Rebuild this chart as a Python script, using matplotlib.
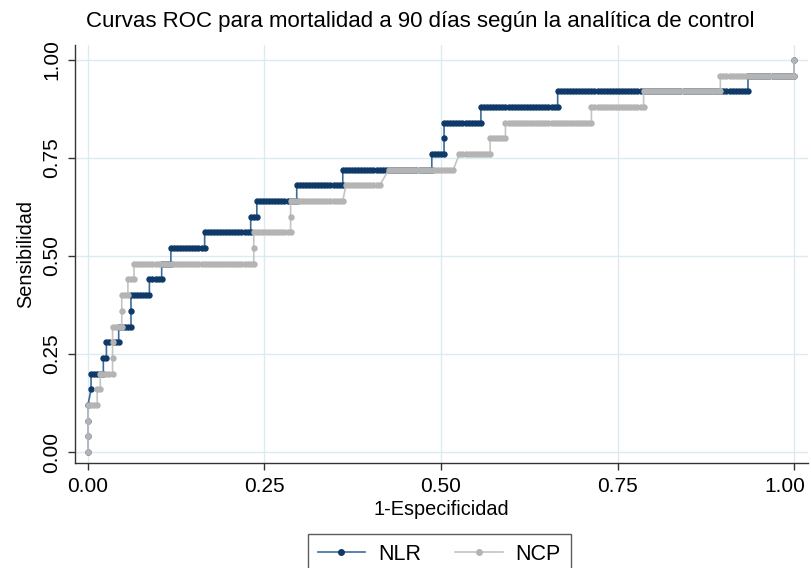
import numpy as np
import matplotlib
matplotlib.use("Agg")
import matplotlib.pyplot as plt
import matplotlib.transforms as mtransforms
from matplotlib.lines import Line2D

plt.rcParams['font.family'] = ['Liberation Sans', 'DejaVu Sans']

# ---- data ----
title = "Curvas ROC para mortalidad a 90 días según la analítica de control"
xlabel = "1-Especificidad"
ylabel = "Sensibilidad"
tick_vals = [0.0, 0.25, 0.5, 0.75, 1.0]
tick_labels = ["0.00", "0.25", "0.50", "0.75", "1.00"]
series_names = ["NLR", "NCP"]

n_neg = 230  # estimated number of controls (spacing of ROC points)

# runs: (sensitivity, 1-specificity start, 1-specificity end)
nlr_sens = [0.00, 0.04, 0.08, 0.12, 0.16, 0.20, 0.24, 0.28, 0.32, 0.36, 0.40, 0.44, 0.48,
            0.52, 0.56, 0.60, 0.64, 0.68, 0.72, 0.76, 0.80, 0.84, 0.88, 0.92, 0.96, 1.00]
nlr_fpr_start = [0, 0, 0, 0, 0.004, 0.004, 0.020, 0.026, 0.045, 0.060, 0.060, 0.087, 0.105,
                 0.118, 0.165, 0.229, 0.240, 0.295, 0.362, 0.489, 0.504, 0.504, 0.557, 0.664, 0.935, 1.0]
nlr_fpr_end = [0, 0, 0, 0, 0.004, 0.020, 0.026, 0.045, 0.060, 0.060, 0.087, 0.105, 0.118,
               0.165, 0.229, 0.240, 0.295, 0.362, 0.489, 0.504, 0.504, 0.557, 0.664, 0.935, 1.0, 1.0]

ncp_sens = [0.00, 0.04, 0.08, 0.12, 0.16, 0.20, 0.24, 0.28, 0.32, 0.36, 0.40, 0.44, 0.48,
            0.52, 0.56, 0.60, 0.64, 0.68, 0.72, 0.76, 0.80, 0.84, 0.88, 0.92, 0.96, 1.00]
ncp_fpr_start = [0, 0, 0, 0, 0.011, 0.017, 0.033, 0.033, 0.033, 0.048, 0.048, 0.056, 0.064,
                 0.233, 0.233, 0.289, 0.289, 0.366, 0.428, 0.527, 0.570, 0.592, 0.713, 0.789, 0.895, 1.0]
ncp_fpr_end = [0, 0, 0, 0.011, 0.017, 0.033, 0.033, 0.033, 0.048, 0.048, 0.056, 0.064, 0.233,
               0.233, 0.287, 0.289, 0.359, 0.411, 0.517, 0.570, 0.592, 0.713, 0.789, 0.895, 1.0, 1.0]


def build(sens, fs, fe):
    xs, ys = [], []
    for s, a, b in zip(sens, fs, fe):
        ka, kb = int(round(a * n_neg)), int(round(b * n_neg))
        for k in range(ka, kb + 1):
            xs.append(k / n_neg)
            ys.append(s)
    return np.array(xs), np.array(ys)


fig = plt.figure(figsize=(8.12, 5.68), dpi=100)
ax = fig.add_axes([75 / 812, 1 - 463 / 568, (808 - 75) / 812, (463 - 45) / 568])

grid_c = "#dcebf2"
for v in tick_vals:
    ax.axhline(v, color=grid_c, lw=1.0, zorder=0)
    ax.axvline(v, color=grid_c, lw=1.0, zorder=0)

blue_line = "#3d6c9c"
blue_mark = "#0f3a68"
gray_line = "#c4c4c4"
gray_mark = "#b4b4b4"

x1, y1 = build(nlr_sens, nlr_fpr_start, nlr_fpr_end)
x2, y2 = build(ncp_sens, ncp_fpr_start, ncp_fpr_end)

ax.plot(x1, y1, color=blue_line, lw=1.2, zorder=2)
ax.plot(x1, y1, ls="none", marker="o", ms=3.6, mfc=blue_mark, mec=blue_mark, zorder=3)
ax.plot(x2, y2, color=gray_line, lw=1.2, zorder=4)
ax.plot(x2, y2, ls="none", marker="o", ms=3.6, mfc=gray_mark, mec=gray_mark, zorder=5)

ax.set_xlim(-0.0184, 1.0198)
ax.set_ylim(-0.028, 1.038)
ax.set_xticks(tick_vals)
ax.set_xticklabels(tick_labels, fontsize=15)
ax.set_yticks(tick_vals)
ax.set_yticklabels(tick_labels, fontsize=15, rotation=90, va="center")
ax.tick_params(direction="out", length=5, width=1, color="#333333", pad=5)
for s in ["top", "right"]:
    ax.spines[s].set_visible(False)
for s in ["left", "bottom"]:
    ax.spines[s].set_color("#333333")
    ax.spines[s].set_linewidth(1.0)

# keep the last x tick label inside the image
last = ax.get_xticklabels()[-1]
last.set_transform(last.get_transform() + mtransforms.ScaledTranslation(-9 / 100, 0, fig.dpi_scale_trans))

ax.set_xlabel(xlabel, fontsize=14.3, labelpad=3)
ax.set_ylabel(ylabel, fontsize=14.3, labelpad=5)
fig.text(0.517, 0.963, title, ha="center", va="center", fontsize=16)

handles = [
    Line2D([0], [0], color=blue_line, lw=1.2, marker="o", ms=4, mfc=blue_mark, mec=blue_mark),
    Line2D([0], [0], color=gray_line, lw=1.2, marker="o", ms=4, mfc=gray_mark, mec=gray_mark),
]
leg = fig.legend(handles, series_names, loc="upper center", bbox_to_anchor=(0.541, 0.060),
                 ncol=2, fontsize=15.5, frameon=True, fancybox=False, edgecolor="#333333",
                 handlelength=2.2, handletextpad=0.6, columnspacing=1.6, borderpad=0.45,
                 borderaxespad=0)
leg.get_frame().set_linewidth(1.0)

fig.savefig("out.png", dpi=100)
